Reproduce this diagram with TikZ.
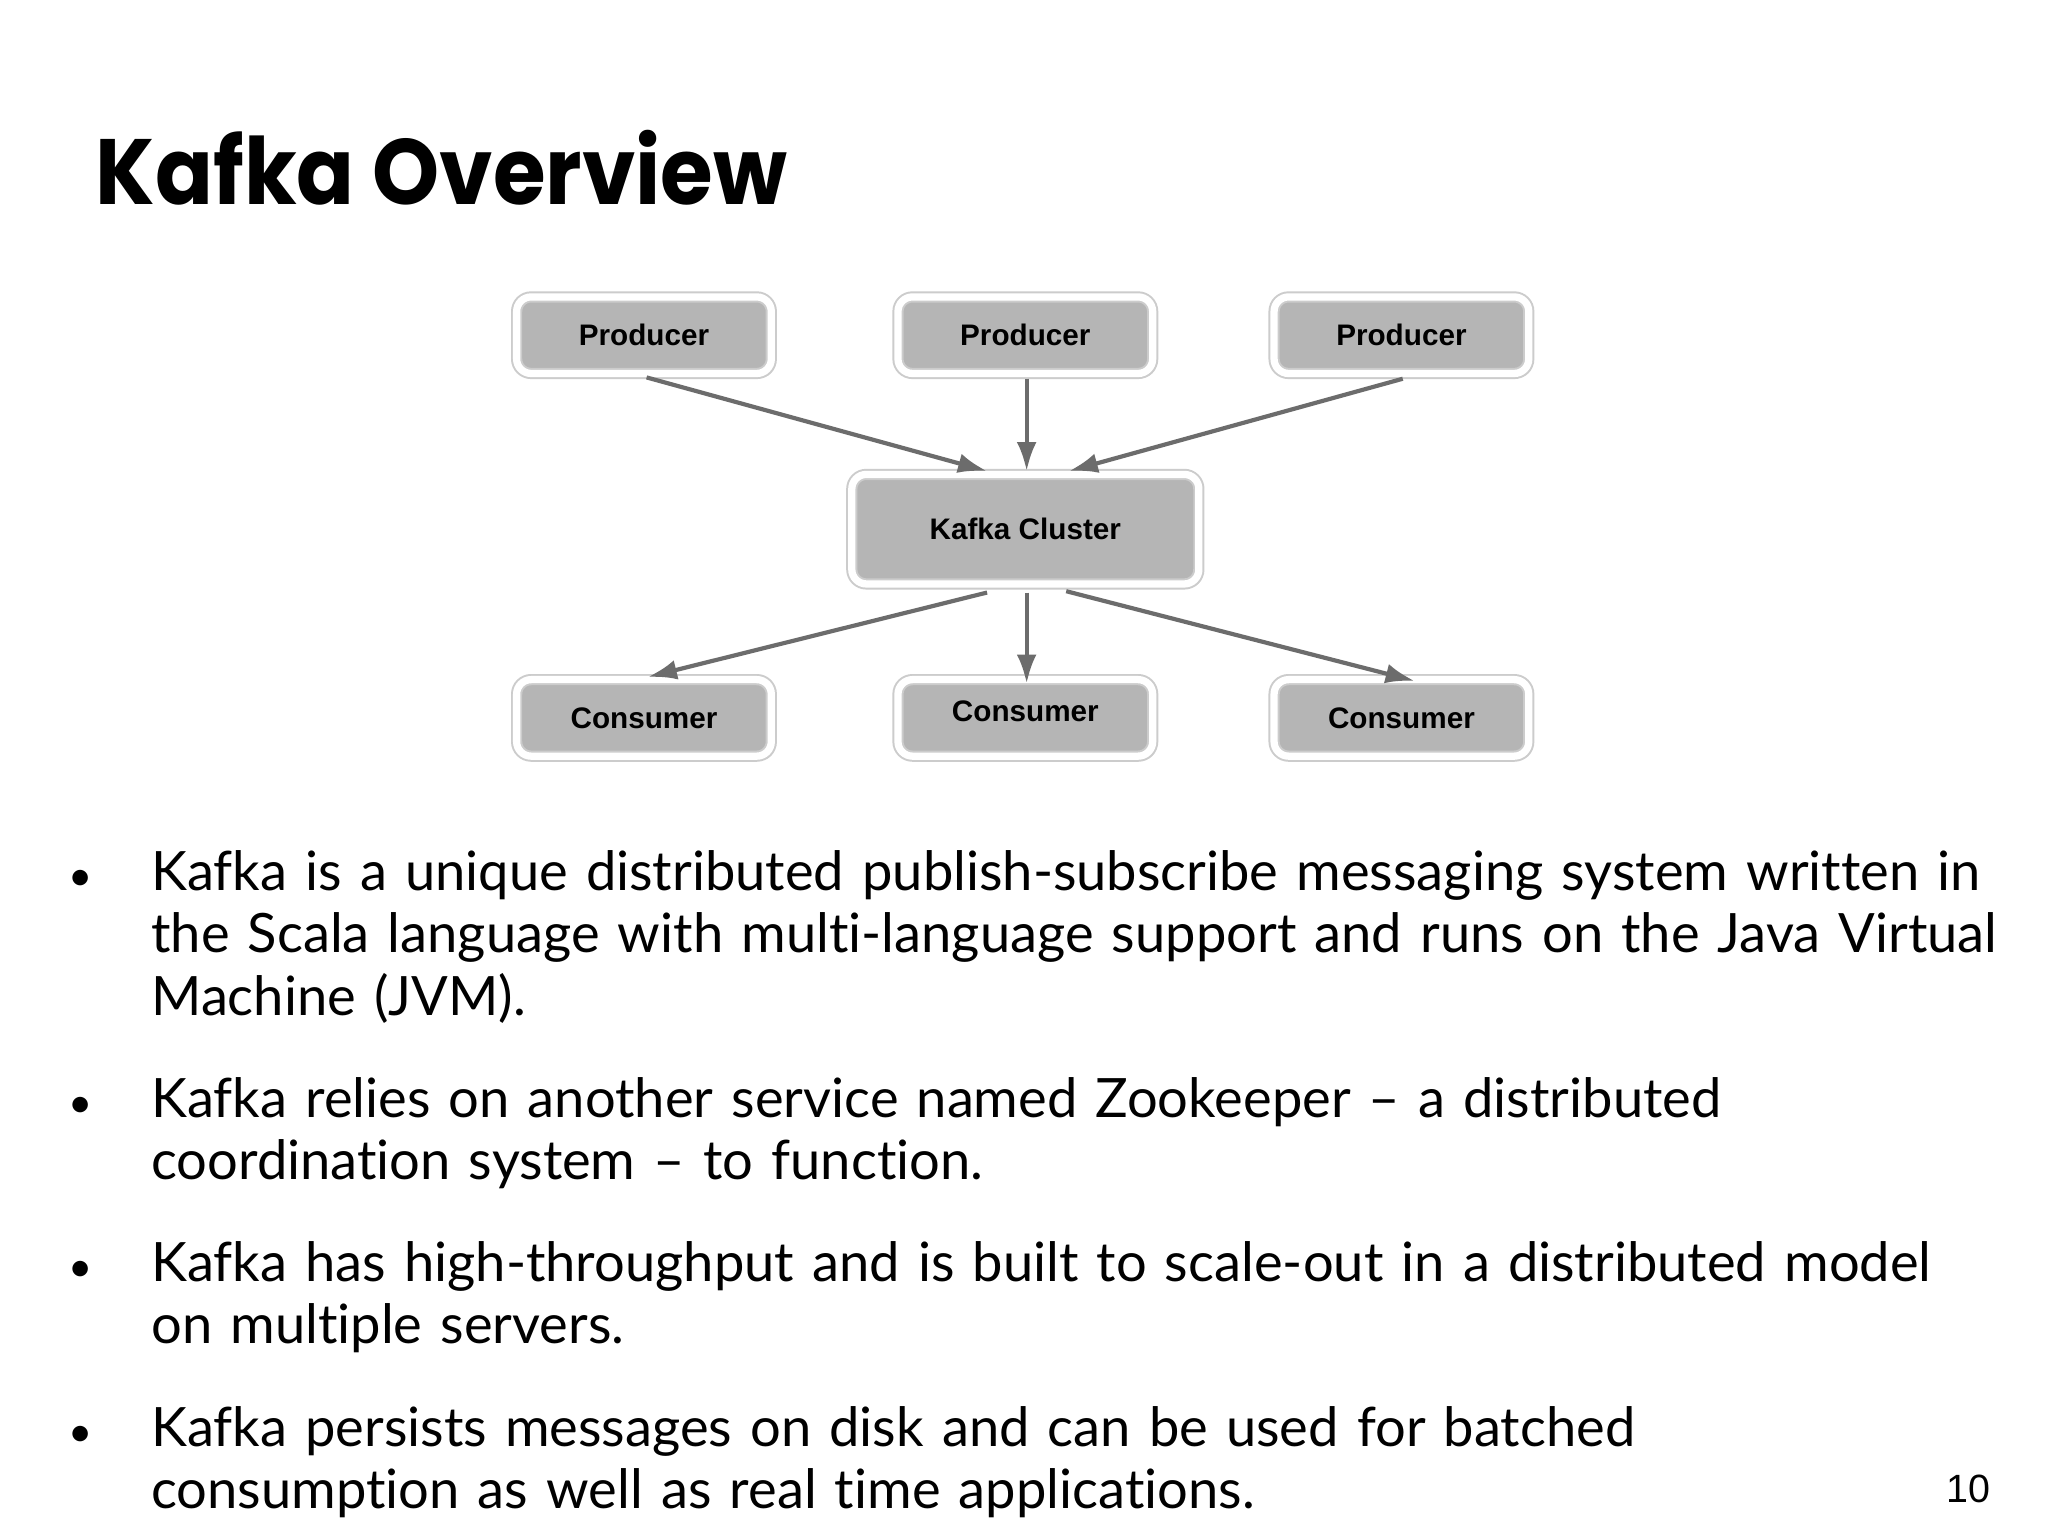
\documentclass[tikz,border=0pt]{standalone}
\usepackage{fontspec}
\setmainfont[Ligatures=NoCommon]{Lato}
\newfontfamily\titlefont{Poppins}
\newfontfamily\arialf{Liberation Sans}
\usetikzlibrary{arrows.meta,shadows}
\hyphenpenalty=10000
\exhyphenpenalty=10000
\begin{document}
\begin{tikzpicture}[x=0.1mm,y=-0.1mm,
  kbox/.style={rounded corners=1.1mm, fill=gray!58, draw=gray!40, double=white,
     double distance=0.55mm, line width=0.15mm, drop shadow={opacity=0.25,shadow xshift=0.3mm,shadow yshift=-0.3mm},
     font=\arialf\bfseries\fontsize{6.4pt}{7pt}\selectfont, text=black,
     minimum width=19.3mm, minimum height=5.8mm, inner sep=0pt},
  conn/.style={draw=gray!85!black, line width=0.9pt, -{Latex[length=2.2mm,width=1.5mm]}},
  body/.style={anchor=base west, text width=140mm, align=left,
     font=\fontsize{11.7pt}{13.4pt}\selectfont, inner sep=0pt},
  bul/.style={anchor=base, font=\fontsize{9pt}{10pt}\selectfont, inner sep=0pt}]
\useasboundingbox[fill=white] (0,0) rectangle (1552,1164);
\node[anchor=base west, inner sep=0pt, xscale=0.92, transform shape, font=\titlefont\bfseries\fontsize{20pt}{24pt}\selectfont] (title) at (72,155) {Kafka Overview};
\node[kbox] (p1) at (488,254) {Producer};
\node[kbox] (p2) at (777,254) {Producer};
\node[kbox] (p3) at (1062,254) {Producer};
\node[kbox, minimum width=26.3mm, minimum height=8.3mm] (k) at (777,401) {\raisebox{-1.2mm}{Kafka Cluster}};
\node[kbox] (c1) at (488,544) {Consumer};
\node[kbox] (c2) at (777,544) {\raisebox{1mm}{Consumer}};
\node[kbox] (c3) at (1062,544) {Consumer};
\coordinate (k1) at (748,357); \coordinate (k2) at (778,357); \coordinate (k3) at (810,357);
\coordinate (kb1) at (748,449); \coordinate (kb2) at (778,449); \coordinate (kb3) at (808,448);
\coordinate (p1b) at (490,286); \coordinate (p2b) at (778,287); \coordinate (p3b) at (1063,287);
\coordinate (c1t) at (491,513); \coordinate (c2t) at (778,518); \coordinate (c3t) at (1072,516);
\draw[conn] (p1b) -- (k1);
\draw[conn] (p2b) -- (k2);
\draw[conn] (p3b) -- (k3);
\draw[conn] (kb1) -- (c1t);
\draw[conn] (kb2) -- (c2t);
\draw[conn] (kb3) -- (c3t);
\node[bul] (b1) at (61,675) {•};
\node[body] (t1) at (114,675) {Kafka is a unique distributed publish-subscribe messaging system written in the Scala language with multi-language support and runs on the Java Virtual Machine (JVM).};
\node[bul] (b2) at (61,847) {•};
\node[body] (t2) at (114,847) {Kafka relies on another service named Zookeeper – a distributed\\ coordination system – to function.};
\node[bul] (b3) at (61,971) {•};
\node[body] (t3) at (114,971) {Kafka has high-throughput and is built to scale-out in a distributed model on multiple servers.};
\node[bul] (b4) at (61,1096) {•};
\node[body] (t4) at (114,1096) {Kafka persists messages on disk and can be used for batched\\ consumption as well as real time applications.};
\node[font=\arialf\fontsize{8.5pt}{10pt}\selectfont, inner sep=0pt] (pg) at (1492,1128) {10};
\end{tikzpicture}
\end{document}
